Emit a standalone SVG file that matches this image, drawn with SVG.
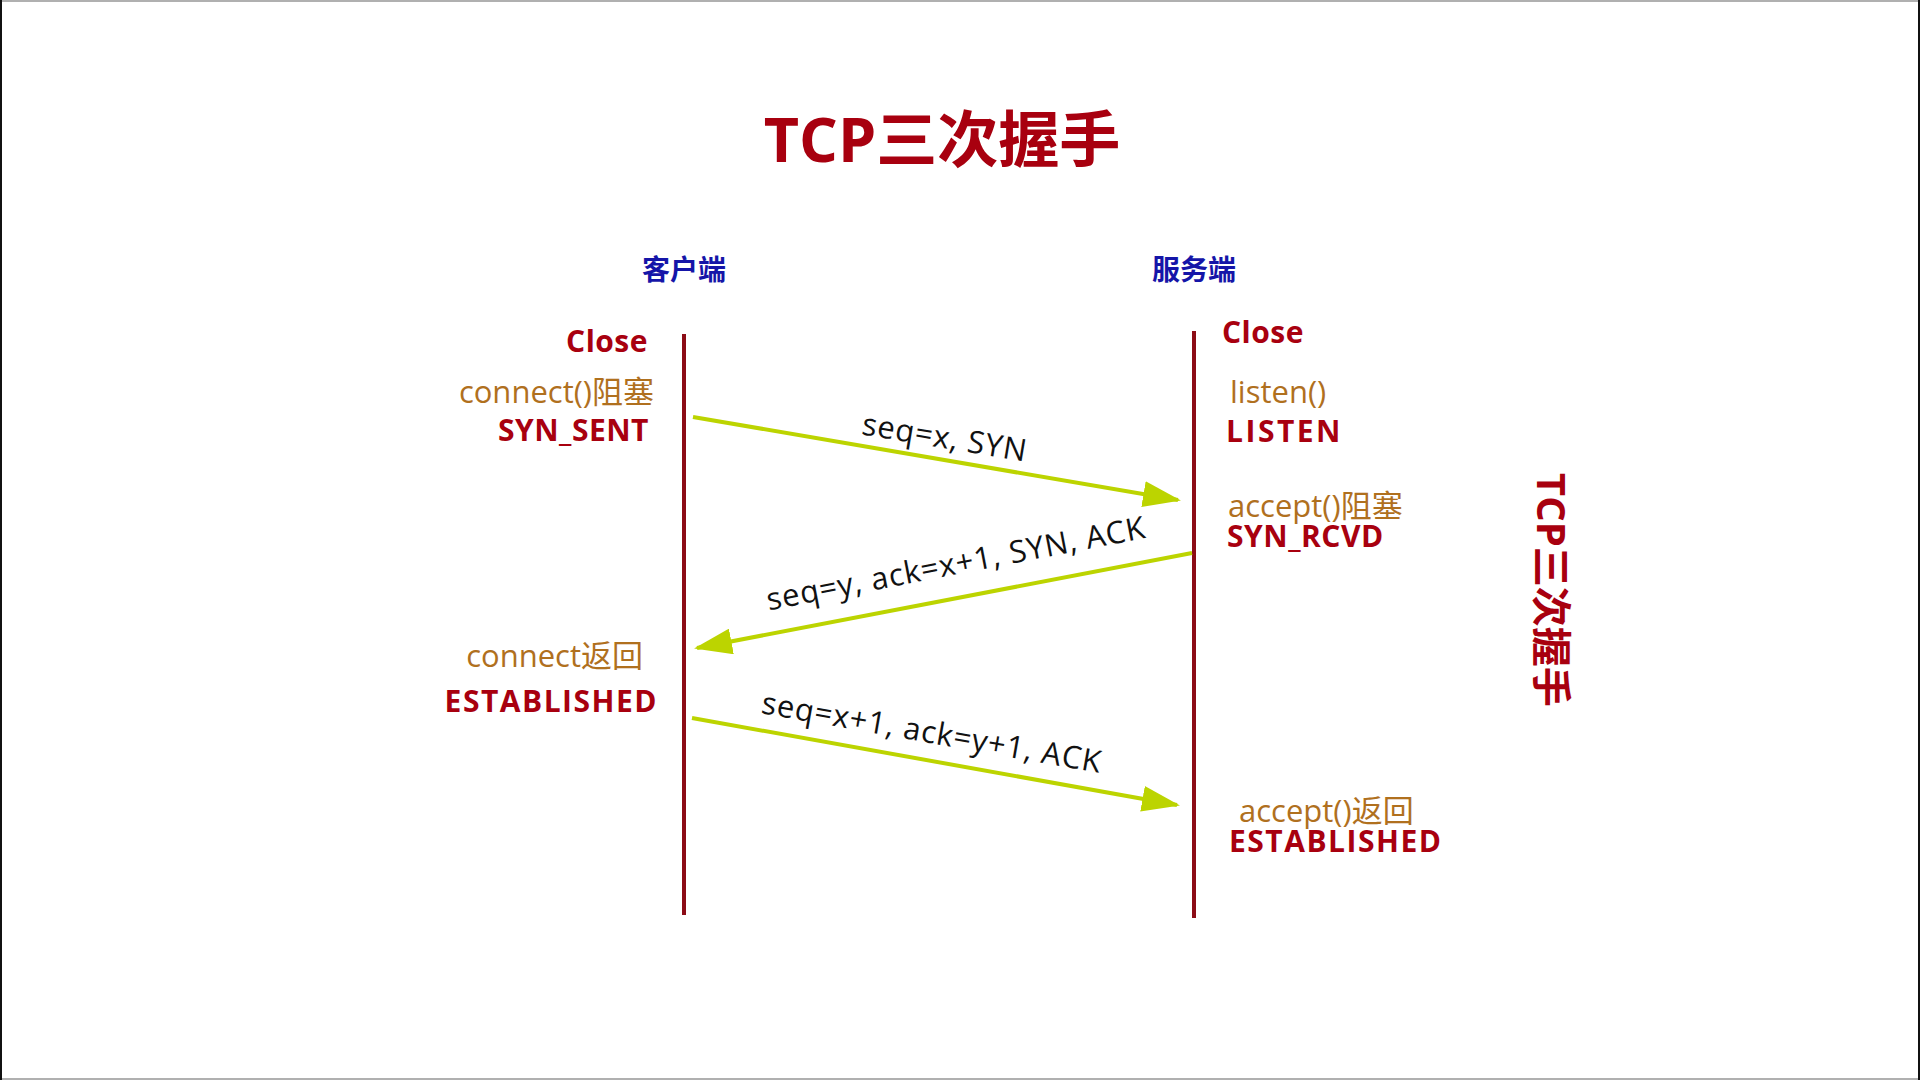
<svg xmlns="http://www.w3.org/2000/svg" width="1920" height="1080" viewBox="0 0 1920 1080">
<style>
  .title { font-family: "Open Sans", "Noto Sans CJK SC", sans-serif; font-weight: bold; fill: #a8000f; }
  .side { font-family: "Noto Sans CJK SC", sans-serif; font-weight: bold; font-size: 28px; fill: #1515a8; }
  .state { font-family: "Open Sans", "Noto Sans CJK SC", sans-serif; font-weight: bold; font-size: 30px; fill: #a8000f; letter-spacing: 0.5px; }
  .wide { letter-spacing: 1.5px; }
  .call { font-family: "Open Sans", "Noto Sans CJK SC", sans-serif; font-size: 31px; fill: #b0701e; }
  .msg { font-family: "Open Sans", "Noto Sans", sans-serif; font-size: 31px; fill: #111111; letter-spacing: 0.8px; }
  .life { stroke: #8c0c16; stroke-width: 4; }
  .arrow { stroke: #bcd400; stroke-width: 4; fill: none; marker-end: url(#head); }
</style>
<defs>
  <marker id="head" markerUnits="userSpaceOnUse" markerWidth="38" markerHeight="26" viewBox="0 0 38 26" refX="35" refY="13" orient="auto">
    <path d="M0,0 L38,13 L0,26 z" fill="#bcd400"/>
  </marker>
</defs>
<rect x="0" y="0" width="1920" height="1080" fill="#ffffff"/>
<rect x="1" y="1" width="1918" height="1078" fill="none" stroke="#b0b0b0" stroke-width="2"/>
<line x1="1" y1="0" x2="1" y2="1080" stroke="#111111" stroke-width="2"/>
<line x1="1919" y1="0" x2="1919" y2="1080" stroke="#111111" stroke-width="2"/>

<g id="title"><text class="title" x="942" y="162" font-size="61" text-anchor="middle">TCP三次握手</text></g>
<g id="side-title"><text class="title" font-size="40" transform="translate(1537,473) rotate(90)">TCP三次握手</text></g>

<g id="client">
  <text class="side" x="684" y="280" text-anchor="middle">客户端</text>
  <line class="life" x1="684" y1="334" x2="684" y2="915"/>
  <text class="state" x="648" y="352" text-anchor="end">Close</text>
  <text class="call" x="654" y="403" text-anchor="end">connect()阻塞</text>
  <text class="state" x="649" y="441" text-anchor="end">SYN_SENT</text>
  <text class="call" x="643" y="667" text-anchor="end">connect返回</text>
  <text class="state wide" x="658" y="712" text-anchor="end">ESTABLISHED</text>
</g>

<g id="server">
  <text class="side" x="1194" y="280" text-anchor="middle">服务端</text>
  <line class="life" x1="1194" y1="331" x2="1194" y2="918"/>
  <text class="state" x="1222" y="343">Close</text>
  <text class="call" x="1230" y="403">listen()</text>
  <text class="state" x="1226" y="442" style="letter-spacing:2.5px">LISTEN</text>
  <text class="call" x="1228" y="517">accept()阻塞</text>
  <text class="state" x="1227" y="547">SYN_RCVD</text>
  <text class="call" x="1239" y="822">accept()返回</text>
  <text class="state wide" x="1229" y="852">ESTABLISHED</text>
</g>

<g id="connectors">
  <line class="arrow" x1="693" y1="417" x2="1178" y2="500"/>
  <text class="msg" text-anchor="middle" transform="translate(943,448) rotate(9.5)">seq=x, SYN</text>
  <line class="arrow" x1="1192" y1="553" x2="697" y2="648"/>
  <text class="msg" text-anchor="middle" transform="translate(958,574) rotate(-10.9)">seq=y, ack=x+1, SYN, ACK</text>
  <line class="arrow" x1="692" y1="718" x2="1177" y2="805"/>
  <text class="msg" text-anchor="middle" transform="translate(930,743) rotate(10)">seq=x+1, ack=y+1, ACK</text>
</g>
</svg>
